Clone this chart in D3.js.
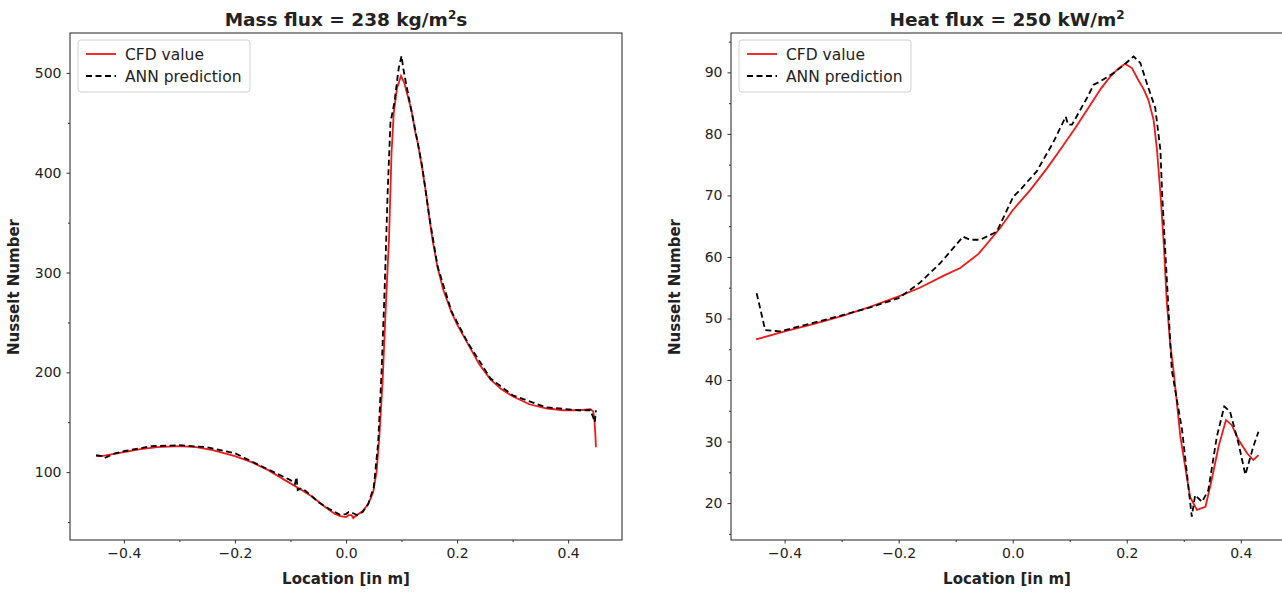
<!DOCTYPE html>
<meta charset="utf-8">
<head>
<script src="https://cdn.jsdelivr.net/npm/d3@7"></script>
<style>
  body { margin: 0; background: #fff; }
  text { font-family: "DejaVu Sans", sans-serif; fill: #222; }
  .title { font-weight: bold; font-size: 18.5px; }
  .axlabel { font-weight: bold; font-size: 15px; }
</style>
</head>
<body>
<svg id="fig" width="1282" height="594"></svg>
<script>
// left panel: mass flux = 238
var massX   = [-0.45,-0.44,-0.43,-0.40,-0.37,-0.34,-0.30,-0.27,-0.24,-0.20,-0.17,-0.14,-0.11,-0.08,-0.06,-0.04,-0.02,-0.01,0.0,0.005,0.01,0.013,0.02,0.03,0.04,0.049,0.055,0.06,0.066,0.072,0.0775,0.082,0.086,0.092,0.099,0.105,0.112,0.118,0.125,0.13,0.137,0.144,0.15,0.156,0.165,0.175,0.19,0.2,0.22,0.24,0.26,0.28,0.30,0.33,0.36,0.39,0.42,0.44,0.445,0.447,0.449,0.45];
var massCFD = [116,116,117,120,123,125,126,125,122,116,110,102,92,82,75,66,58,56,55,57,57,54,57,61,68,80,100,135,192,270,335,420,460,485,497,490,475,462,440,428,405,380,355,332,305,283,260,248,228,208,193,183,176,168,164,162,162,163,161,155,138,125];
var massAnnX = [-0.45,-0.44,-0.435,-0.42,-0.40,-0.35,-0.30,-0.25,-0.20,-0.16,-0.13,-0.10,-0.092,-0.089,-0.087,-0.08,-0.07,-0.05,-0.03,-0.01,0.0,0.005,0.012,0.02,0.03,0.04,0.05,0.058,0.064,0.07,0.075,0.08,0.087,0.095,0.1,0.103,0.108,0.115,0.125,0.137,0.15,0.165,0.19,0.22,0.26,0.30,0.36,0.42,0.44,0.445,0.448,0.45];
var massANN  = [117,116,114,118,121,126,127,125,119,108,100,92,88,95,82,84,80,70,63,57,58,60,59,57,60,68,85,130,200,290,380,450,470,505,517,505,490,470,442,407,356,306,261,229,194,177,165,162,162,155,150,162];

// right panel: heat flux = 250
var heatX   = [-0.45,-0.40,-0.35,-0.30,-0.25,-0.20,-0.163,-0.12,-0.092,-0.06,-0.022,0.0,0.031,0.06,0.083,0.11,0.136,0.155,0.171,0.185,0.197,0.209,0.22,0.23,0.238,0.247,0.253,0.259,0.265,0.27,0.276,0.282,0.294,0.311,0.323,0.338,0.349,0.361,0.374,0.384,0.396,0.411,0.422,0.431];
var heatCFD = [46.6,47.9,49.1,50.4,51.9,53.6,55.0,57.0,58.2,60.5,64.7,67.6,70.9,74.4,77.4,81.0,84.7,87.4,89.3,90.6,91.4,90.7,88.8,87.2,85.5,82.3,77.4,70.4,62,53,46,41.6,30.8,21.0,18.9,19.4,23.8,29.2,33.5,32.7,30.3,28.1,27.0,27.8];
var heatAnnX = [-0.449,-0.434,-0.408,-0.35,-0.30,-0.25,-0.20,-0.163,-0.127,-0.087,-0.075,-0.057,-0.028,0.001,0.013,0.042,0.071,0.093,0.097,0.104,0.13,0.142,0.153,0.177,0.195,0.212,0.224,0.235,0.25,0.259,0.262,0.279,0.297,0.314,0.320,0.332,0.343,0.358,0.371,0.381,0.396,0.408,0.422,0.431];
var heatANN  = [54.1,48.1,47.9,49.3,50.5,51.8,53.3,55.8,59.0,63.3,62.8,62.8,64.1,69.8,70.9,73.9,78.6,82.8,81.5,81.5,85.8,88.0,88.5,89.9,91.2,92.6,91.5,88.3,84.2,77.4,70.4,41.6,31.9,17.8,21.3,20.2,22.1,30.8,35.7,34.9,29.7,24.6,29.2,31.6];

var legendLabels = ["CFD value", "ANN prediction"];

var svg = d3.select("#fig");

function panel(opt) {
    var x = d3.scaleLinear().domain(opt.xdom).range([opt.left, opt.left + 552]);
    var y = d3.scaleLinear().domain(opt.ydom).range([540, 33]);
    var g = svg.append("g");

    g.append("clipPath").attr("id", opt.id + "clip")
        .append("rect").attr("x", opt.left).attr("y", 33).attr("width", 552).attr("height", 507);

    // minor ticks
    var xAxMinor = d3.axisBottom(x).tickValues(opt.xminor).tickSize(2).tickFormat("");
    var yAxMinor = d3.axisLeft(y).tickValues(opt.yminor).tickSize(2).tickFormat("");
    g.append("g").attr("transform", "translate(0,540)").call(xAxMinor);
    g.append("g").attr("transform", "translate(" + opt.left + ",0)").call(yAxMinor);

    var fmtX = function(d) { return d3.format(".1f")(d).replace("-", "\u2212"); };
    var xAx = d3.axisBottom(x).tickValues(opt.xticks).tickSize(3.5).tickPadding(5).tickFormat(fmtX);
    var yAx = d3.axisLeft(y).tickValues(opt.yticks).tickSize(3.5).tickPadding(5).tickFormat(d3.format("d"));
    g.append("g").attr("transform", "translate(0,540)").call(xAx);
    g.append("g").attr("transform", "translate(" + opt.left + ",0)").call(yAx);
    g.selectAll(".tick text").style("font-size", "14px").attr("fill", "#222");
    g.selectAll(".domain").remove();
    g.selectAll(".tick line").attr("stroke", "#333");

    var line = d3.line().x(function(d) { return x(d[0]); }).y(function(d) { return y(d[1]); });
    var plot = g.append("g").attr("clip-path", "url(#" + opt.id + "clip)");
    plot.append("path").datum(d3.zip(opt.cx, opt.cy))
        .attr("d", line).attr("fill", "none").attr("stroke", "#f01818").attr("stroke-width", 1.8);
    plot.append("path").datum(d3.zip(opt.ax, opt.ay))
        .attr("d", line).attr("fill", "none").attr("stroke", "#000").attr("stroke-width", 1.8)
        .attr("stroke-dasharray", "6,3.5");

    // frame
    g.append("rect").attr("x", opt.left).attr("y", 33).attr("width", 552).attr("height", 507)
        .attr("fill", "none").attr("stroke", "#222").attr("stroke-width", 1);

    g.append("text").attr("class", "title").attr("x", opt.left + 276).attr("y", 26)
        .attr("text-anchor", "middle").html(opt.title);
    g.append("text").attr("class", "axlabel").attr("x", opt.left + 276).attr("y", 584)
        .attr("text-anchor", "middle").text("Location [in m]");
    g.append("text").attr("class", "axlabel")
        .attr("transform", "translate(" + (opt.left - 51) + ",287) rotate(-90)")
        .attr("text-anchor", "middle").text("Nusselt Number");

    // legend
    var lg = g.append("g").attr("transform", "translate(" + (opt.left + 8) + ",40)");
    lg.append("rect").attr("width", 172).attr("height", 52).attr("rx", 3)
        .attr("fill", "#fff").attr("stroke", "#ccc").attr("opacity", 0.9);
    legendLabels.forEach(function(lab, i) {
        var yy = 14 + i * 22;
        lg.append("line").attr("x1", 8).attr("x2", 38).attr("y1", yy).attr("y2", yy)
            .attr("stroke", i === 0 ? "#f01818" : "#000").attr("stroke-width", 1.8)
            .attr("stroke-dasharray", i === 0 ? null : "6,3.5");
        lg.append("text").attr("x", 47).attr("y", yy + 5.5).style("font-size", "15.5px").text(lab);
    });
}

panel({
    id: "mass", left: 70, xdom: [-0.497, 0.497], ydom: [32, 540],
    xticks: [-0.4, -0.2, 0, 0.2, 0.4], xminor: [-0.3, -0.1, 0.1, 0.3],
    yticks: [100, 200, 300, 400, 500], yminor: [50, 150, 250, 350, 450],
    cx: massX, cy: massCFD, ax: massAnnX, ay: massANN,
    title: "Mass flux = 238 kg/m<tspan dy='-7' font-size='12px'>2</tspan><tspan dy='7'>s</tspan>"
});
panel({
    id: "heat", left: 731, xdom: [-0.494, 0.474], ydom: [14, 96.4],
    xticks: [-0.4, -0.2, 0, 0.2, 0.4], xminor: [-0.3, -0.1, 0.1, 0.3],
    yticks: [20, 30, 40, 50, 60, 70, 80, 90], yminor: [15, 25, 35, 45, 55, 65, 75, 85, 95],
    cx: heatX, cy: heatCFD, ax: heatAnnX, ay: heatANN,
    title: "Heat flux = 250 kW/m<tspan dy='-7' font-size='12px'>2</tspan>"
});
</script>
</body>
